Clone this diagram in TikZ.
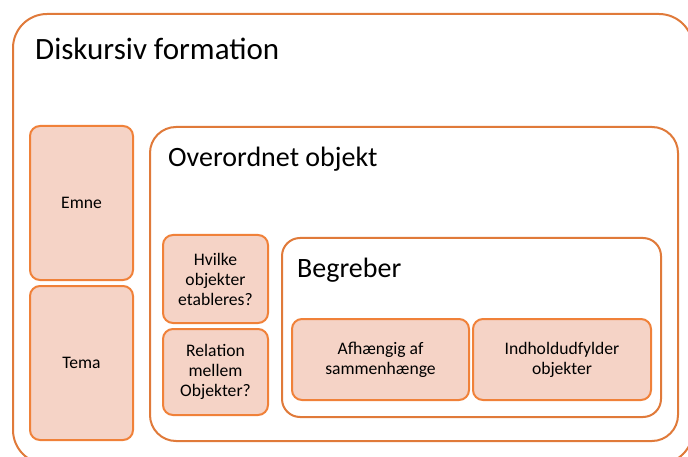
\documentclass[tikz,border=0pt]{standalone}
\usepackage{fontspec}
\setmainfont{Carlito}
\definecolor{frame}{HTML}{E07A3A}
\definecolor{cellline}{HTML}{F08139}
\definecolor{cellfill}{HTML}{F5D3C6}
\tikzset{
  container/.style={draw=frame, line width=2pt, fill=white, inner sep=0pt},
  cell/.style={draw=cellline, line width=2pt, fill=cellfill, rounded corners=10pt,
    inner sep=2pt, align=center, font=\fontsize{17.6}{20}\selectfont},
  heading/.style={anchor=base west, inner sep=0pt}
}
\begin{document}
\begin{tikzpicture}[x=1pt,y=-1pt]
\useasboundingbox (0,0) rectangle (688,457);
\clip (0,0) rectangle (688,457);
% outer frame
\node[container, rounded corners=34pt, minimum width=680pt, minimum height=450pt] (diskursiv) at (353,239) {};
\node[heading, font=\fontsize{31}{36}\selectfont] (titleA) at (35,60) {Diskursiv formation};
% left column
\node[cell, minimum width=103pt, minimum height=154pt] (emne) at (81.5,203) {Emne};
\node[cell, minimum width=103pt, minimum height=154pt] (tema) at (81.5,363) {Tema};
% second level frame
\node[container, rounded corners=26pt, minimum width=528pt, minimum height=314pt] (overordnet) at (414,284) {};
\node[heading, font=\fontsize{28}{33}\selectfont] (titleB) at (168,167) {Overordnet objekt};
\node[cell, minimum width=105pt, minimum height=88pt] (hvilke) at (215.5,279) {Hvilke\\objekter\\etableres?};
\node[cell, minimum width=105pt, minimum height=86pt] (relation) at (215.5,372) {Relation\\mellem\\Objekter?};
% third level frame
\node[container, rounded corners=18pt, minimum width=379pt, minimum height=179pt] (begreber) at (471.5,327.5) {};
\node[heading, font=\fontsize{28}{33}\selectfont] (titleC) at (297,277) {Begreber};
\node[cell, minimum width=177pt, minimum height=81pt] (afh) at (380.5,359.5) {Afhængig af\\sammenhænge};
\node[cell, minimum width=178pt, minimum height=81pt] (indhold) at (562,359.5) {Indholdudfylder\\objekter};
\end{tikzpicture}
\end{document}
